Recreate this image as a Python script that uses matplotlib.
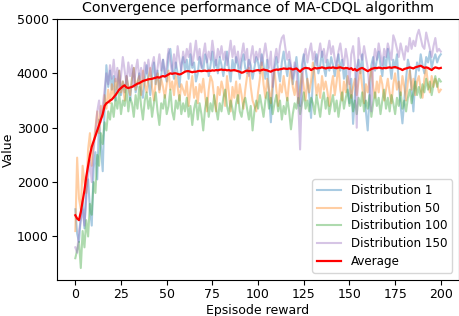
import matplotlib
matplotlib.use("Agg")
import matplotlib.pyplot as plt
import numpy as np

episodes = list(range(201))

dist1 = [
    1500, 1050, 900, 1350, 1650, 1150, 1900, 2050, 1500, 1200, 2250, 2550, 2050, 3150, 2650, 2200, 3350, 4150, 3750, 4050,
    3700, 3950, 3500, 3800, 4050, 3600, 3850, 3650, 3950, 3750, 3500, 3900, 4100, 3650, 3800, 4000, 3700, 3550, 3900, 4150,
    3850, 3600, 3950, 4200, 3800, 4050, 3700, 3950, 4250, 4000, 3850, 4350, 4450, 4100, 3900, 4200, 4000, 3750, 4150, 4300,
    4050, 4250, 3900, 4350, 4100, 4200, 3850, 4000, 4300, 4150, 4050, 4350, 4250, 3950, 4150, 4400, 4100, 4250, 4000, 4300,
    4150, 3950, 4200, 4400, 4100, 3850, 4250, 4050, 4300, 4150, 3900, 4200, 4350, 4100, 4000, 4250, 4150, 3900, 4100, 4300,
    4200, 4000, 4350, 4150, 3900, 4250, 3600, 3100, 3700, 4100, 4300, 4050, 3850, 4200, 4400, 4150, 3950, 4250, 4100, 3800,
    4050, 4300, 3950, 3400, 4150, 4350, 4100, 3850, 3600, 3180, 3900, 4200, 4350, 4000, 4150, 4400, 4100, 3950, 4250, 4050,
    4300, 4150, 3950, 4200, 4350, 4050, 4250, 3900, 4100, 3700, 3450, 3900, 3070, 3600, 4100, 4250, 4000, 4350, 3800, 3300,
    2950, 3600, 4150, 4300, 4050, 4250, 4400, 4150, 3950, 4300, 4100, 4450, 4200, 3900, 4250, 4100, 4350, 3800, 3400, 3080,
    3500, 3900, 4250, 4100, 3700, 3300, 3900, 4200, 4050, 4350, 4150, 4000, 4300, 4200, 4400, 4100, 4250, 4350, 4200, 4300,
    4350]

dist50 = [
    1100, 2450, 1700, 1500, 2300, 2000, 1800, 2600, 2900, 2300, 2700, 3000, 3300, 2900, 3400, 3200, 3600, 3350, 3700, 3450,
    3800, 3550, 3900, 3700, 4050, 3650, 3850, 3500, 3950, 3750, 3600, 3900, 4100, 3700, 3850, 3950, 3600, 4050, 3800, 3650,
    3900, 4100, 3750, 3500, 3850, 4000, 3650, 3900, 3750, 3550, 3800, 4050, 3700, 3850, 3600, 3950, 3750, 3500, 3800, 3700,
    3600, 3850, 3400, 3700, 3950, 3550, 3750, 3450, 3800, 3650, 3900, 3600, 3300, 3700, 3950, 3850, 3550, 3300, 3750, 3600,
    3850, 3700, 3400, 3950, 3650, 3300, 3750, 3550, 3850, 3450, 3800, 3600, 3350, 3700, 3950, 4100, 3750, 3500, 3400, 3300,
    3650, 3900, 4200, 3800, 3550, 3900, 3700, 3450, 3850, 4050, 3700, 3400, 3800, 3650, 3950, 3700, 3500, 3850, 4100, 3750,
    3600, 3850, 3450, 3700, 4000, 3750, 3500, 3900, 3650, 3850, 4200, 3950, 3600, 3800, 3550, 3950, 3700, 3850, 3650, 3400,
    3750, 3950, 3600, 3850, 4150, 3700, 3500, 3850, 3650, 3950, 3800, 3550, 3750, 3900, 3600, 3850, 4050, 3750, 3450, 3800,
    3650, 3900, 4100, 3750, 3550, 3850, 3650, 3950, 3800, 3500, 3700, 3900, 3650, 3450, 3800, 4000, 3700, 3850, 3600, 3950,
    3750, 3500, 3850, 4050, 3700, 3900, 3600, 3850, 3950, 3700, 3550, 3900, 4100, 3800, 3650, 3950, 3750, 3900, 3800, 3650,
    3700]

dist100 = [
    600, 750, 900, 420, 1100, 800, 1300, 1000, 1600, 1400, 2000, 1800, 2500, 2300, 2900, 2700, 3100, 2950, 3300, 3150,
    3450, 3200, 3550, 3350, 3650, 3250, 3500, 3400, 3700, 3300, 3550, 3450, 3200, 3600, 3350, 3750, 3400, 3150, 3500, 3650,
    3350, 3550, 3200, 3450, 3650, 3300, 3050, 3450, 3350, 3600, 3250, 3400, 3700, 3300, 3150, 3500, 3350, 3600, 3250, 3450,
    3300, 3550, 3200, 3400, 3050, 3350, 3500, 3150, 3450, 3250, 2950, 3350, 3550, 3200, 3450, 3300, 3600, 3350, 3150, 3450,
    3300, 3550, 3700, 3400, 3250, 3500, 3350, 3150, 3450, 3600, 3300, 3200, 3450, 3550, 3350, 3150, 3400, 2950, 3300, 3500,
    3350, 3600, 3400, 3200, 3500, 3650, 3350, 3550, 3250, 3450, 3600, 3300, 3500, 3150, 3400, 3250, 3550, 3300, 2970, 3250,
    3450, 3350, 3550, 3250, 3450, 3650, 3350, 3500, 3300, 3550, 3450, 3250, 3600, 3400, 3200, 3500, 3650, 3350, 3550, 3250,
    3450, 3600, 3300, 3500, 3200, 3450, 3650, 3350, 3550, 3700, 3400, 3600, 3300, 3500, 3250, 3550, 3400, 3650, 3300, 3500,
    3350, 3600, 3200, 3450, 3650, 3400, 3550, 3250, 3500, 3700, 3350, 3550, 3300, 3600, 3450, 3250, 3550, 3400, 3650, 3350,
    3500, 3300, 3550, 3700, 3450, 3650, 3850, 3600, 3750, 3550, 3800, 3650, 3900, 3700, 3850, 3600, 3800, 3950, 3750, 3900,
    3850]

dist150 = [
    800, 700, 1100, 1300, 1500, 1200, 1700, 2100, 2400, 2000, 2600, 2900, 3300, 3500, 3100, 3400, 3700, 4000, 3800, 4150,
    3900, 4250, 3850, 4100, 3700, 3950, 4300, 4050, 3800, 4200, 3950, 4150, 3750, 4050, 4250, 3900, 4100, 3850, 4200, 4000,
    4250, 3950, 4150, 4300, 3900, 4100, 4350, 4050, 4250, 3950, 4150, 4450, 4200, 4000, 4350, 4100, 4500, 4250, 4050, 4400,
    4200, 4450, 4300, 4550, 4150, 4350, 4600, 4250, 4450, 4100, 4350, 4550, 4200, 4400, 4250, 4600, 4350, 4150, 4450, 4300,
    4500, 4250, 4400, 4150, 4350, 4600, 4300, 4500, 4200, 4400, 4100, 4350, 4550, 4250, 4450, 3950, 4300, 4500, 4200, 4400,
    4250, 4450, 4150, 4350, 4550, 4300, 4100, 4400, 3750, 4250, 4450, 4200, 4500, 4650, 4700, 4450, 4250, 4400, 4150, 3900,
    4200, 4050, 3500, 2600, 3700, 4300, 4450, 4200, 4400, 4550, 4250, 4400, 4150, 4350, 4550, 4300, 4450, 4200, 4400, 4600,
    4350, 4500, 4250, 4100, 4400, 4550, 4300, 4150, 4450, 4250, 3800, 4350, 4500, 4200, 3000, 4650, 4350, 4250, 4500, 4300,
    4100, 3700, 3300, 4200, 4450, 4250, 4550, 4350, 4150, 4450, 4300, 4550, 4400, 4250, 4700, 4600, 4450, 4300, 4550, 4400,
    4250, 4500, 4400, 4650, 4450, 4600, 4500, 4700, 4800, 4650, 4500, 4450, 4750, 4600, 4450, 4300, 4500, 4650, 4400, 4450,
    4400]

average = [
    1390, 1330, 1300, 1450, 1650, 1850, 2100, 2300, 2500, 2650, 2750, 2850, 2950, 3050, 3150, 3250, 3400, 3450, 3470, 3500,
    3520, 3560, 3600, 3650, 3700, 3730, 3760, 3780, 3740, 3730, 3740, 3750, 3770, 3790, 3810, 3820, 3840, 3860, 3870, 3880,
    3890, 3895, 3900, 3910, 3920, 3930, 3920, 3940, 3950, 3940, 3960, 3980, 4000, 3990, 4000, 4000, 3990, 3980, 3990, 4010,
    4030, 4040, 4040, 4030, 4020, 4030, 4030, 4040, 4045, 4040, 4045, 4050, 4040, 4050, 4045, 4055, 4050, 4060, 4055, 4065,
    4070, 4060, 4065, 4055, 4060, 4050, 4055, 4060, 4050, 4040, 4030, 4010, 4020, 4040, 4050, 4040, 4045, 4035, 4045, 4055,
    4060, 4050, 4060, 4070, 4060, 4055, 4040, 4030, 4050, 4060, 4070, 4065, 4075, 4080, 4090, 4085, 4080, 4090, 4085, 4070,
    4080, 4090, 4060, 4030, 4070, 4090, 4100, 4095, 4090, 4060, 4080, 4100, 4090, 4095, 4100, 4110, 4100, 4090, 4100, 4105,
    4100, 4110, 4100, 4095, 4105, 4110, 4100, 4090, 4100, 4095, 4080, 4095, 4060, 4080, 4050, 4070, 4090, 4100, 4080, 4060,
    4040, 4060, 4080, 4090, 4100, 4095, 4105, 4100, 4090, 4100, 4095, 4105, 4110, 4100, 4110, 4115, 4105, 4090, 4080, 4060,
    4080, 4090, 4100, 4110, 4100, 4090, 4110, 4120, 4130, 4140, 4120, 4100, 4110, 4100, 4080, 4060, 4090, 4110, 4100, 4090,
    4100]

series_labels = ["Distribution 1", "Distribution 50", "Distribution 100", "Distribution 150"]
series_colors = ["tab:blue", "tab:orange", "tab:green", "tab:purple"]

fig = plt.figure(figsize=(4.6, 3.16), dpi=100)
ax = fig.add_axes([0.124, 0.114, 0.874, 0.826])

for vals, lab, col in zip([dist1, dist50, dist100, dist150], series_labels, series_colors):
    ax.plot(episodes, vals, color=col, alpha=0.38, linewidth=1.5, label=lab)
ax.plot(episodes, average, color="red", linewidth=1.6, label="Average")

ax.set_xlim(-10, 210)
ax.set_ylim(200, 5000)
ax.set_xticks([0, 25, 50, 75, 100, 125, 150, 175, 200])
ax.set_yticks([1000, 2000, 3000, 4000, 5000])
ax.set_title("Convergence performance of MA-CDQL algorithm", fontsize=10.3, pad=5)
ax.set_xlabel("Epsisode reward", fontsize=9, labelpad=2)
ax.set_ylabel("Value", fontsize=9, labelpad=1)
ax.tick_params(labelsize=9, pad=2.5)
ax.legend(loc="lower right", fontsize=8.6, borderaxespad=0.6, labelspacing=0.4)

fig.savefig("out.png", dpi=100)
